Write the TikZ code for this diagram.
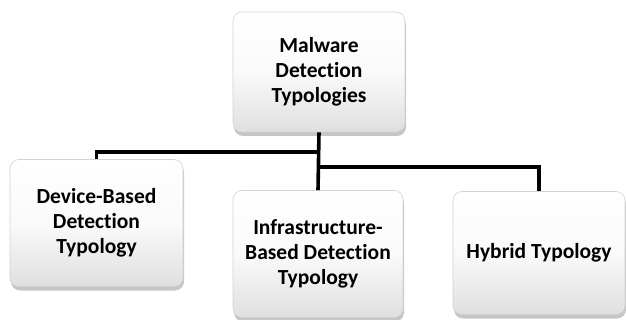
\documentclass[tikz,border=0pt]{standalone}
\usepackage{fontspec}
\setmainfont{Carlito}[Ligatures=NoCommon]
\usetikzlibrary{shadows}

\tikzset{
  typbox/.style={draw=gray!35, line width=0.6pt, rounded corners=9pt,
    top color=white, bottom color=gray!25, middle color=gray!4,
    drop shadow={opacity=0.45, shadow xshift=1pt, shadow yshift=-4pt},
    align=center, inner sep=0pt, font=\bfseries\fontsize{21.5}{25}\selectfont},
  link/.style={line width=3.6pt}
}

\begin{document}
\begin{tikzpicture}[x=1pt,y=-1pt]
\useasboundingbox (0,0) rectangle (626,320);
\node[typbox, minimum width=172pt, minimum height=120pt] (top) at (319,72) {Malware\\Detection\\Typologies};
\node[typbox, minimum width=173pt, minimum height=127pt] (dev) at (96.5,223) {Device-Based\\Detection\\Typology};
\node[typbox, minimum width=170pt, minimum height=127pt] (infra) at (318,254) {Infrastructure-\\Based Detection\\Typology};
\node[typbox, minimum width=172pt, minimum height=123pt] (hyb) at (539,253) {Hybrid Typology};
\coordinate (ja) at (319,152);
\coordinate (jb) at (319,167);
\draw[link] (top.south) -- (infra.north);
\draw[link] (ja) -| (dev.north);
\draw[link] (jb) -| (hyb.north);
\end{tikzpicture}
\end{document}
